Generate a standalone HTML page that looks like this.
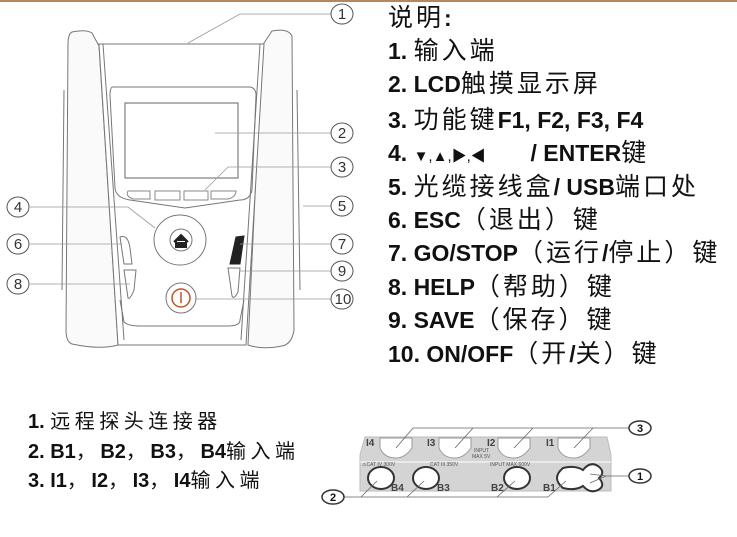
<!DOCTYPE html>
<html><head><meta charset="utf-8"><style>
body{margin:0;width:737px;height:537px;background:#fff;overflow:hidden;position:relative;font-family:"Liberation Sans","Noto Sans CJK SC",sans-serif}
.t{position:absolute;left:388px;font-size:23px;font-weight:bold;color:#111;line-height:24px;white-space:nowrap}
.t span{font-weight:normal;font-size:25px;letter-spacing:3px}
.b{position:absolute;left:28px;font-size:20px;color:#111;white-space:nowrap;font-weight:bold;line-height:22px}
.b span{font-weight:normal;font-size:20px;letter-spacing:4.5px}
</style></head><body>
<div style="position:absolute;left:0;top:0;width:737px;height:2px;background:#b8865a"></div>
<svg width="737" height="537" style="position:absolute;left:0;top:0" font-family="Liberation Sans, sans-serif">
<g fill="none" stroke="#777" stroke-width="1">
<path d="M72 32 Q86 29 92 33 L99 46 L118 345 Q100 350 72 344 Q66 342 66 330 L68 44 Q68 34 72 32Z" fill="#fafafa"/>
<path d="M64 90 L62 290" />
<path d="M272 31 Q288 28 292 36 L294 330 Q292 344 282 346 Q262 350 248 345 L262 46 Z" fill="#fafafa"/>
<path d="M297 90 L300 290"/>
<path d="M99 44 L264 44 L246 345 L118 345 Z" fill="#fff"/>
<path d="M103 44 L124 340 M260 44 L241 340"/>
<path d="M120 300 L124 322 Q128 326 140 326 L228 326 Q240 326 240 320 L244 300"/>
<path d="M113 87 L250 87 Q256 88 256 95 L252 190 Q250 200 240 200 L185 208 L130 200 Q116 198 115 188 L110 95 Q110 87 113 87Z"/>
<rect x="125" y="103" width="113" height="75" stroke="#666" fill="#fff"/>
<path d="M128 191 L150 191 L150 199 L133 199 Q125 196 128 191Z M155 191 L180 191 L180 200 L155 200Z M184 191 L208 191 L208 200 L184 200Z M211 191 L236 191 Q236 197 228 199 L211 199Z" stroke="#888"/>
<ellipse cx="180" cy="240" rx="26" ry="25"/>
<circle cx="181" cy="240" r="11"/>
<path d="M174 242 L181 235 L188 242 M176 241 L176 247 L186 247 L186 241" stroke="#222" stroke-width="2" fill="#222"/>
<path d="M120 237 Q128 234 130 248 L132 264 L124 264 Z"/>
<path d="M124 270 L136 270 L134 290 Q130 300 128 298 Z"/>
<path d="M236 237 L244 236 L240 264 L230 264 Z" fill="#222" stroke="#222"/>
<path d="M228 268 L240 268 L238 292 Q234 300 232 296 Z"/>
<circle cx="181" cy="298" r="15" fill="#fff"/>
<circle cx="181" cy="298" r="9" stroke="#c0522a" stroke-width="1.5"/>
<line x1="181" y1="292" x2="181" y2="303" stroke="#c0522a" stroke-width="1.5"/>
</g>
<g fill="none" stroke="#999" stroke-width="0.8">
<path d="M188 43 L240 14 L331 14"/>
<path d="M215 133 L331 133"/>
<path d="M205 190 L228 167 L331 167"/>
<path d="M303 206 L331 206"/>
<path d="M240 244 L331 244"/>
<path d="M240 271 L331 271"/>
<path d="M195 299 L331 299"/>
<path d="M30 207 L128 207 L155 228"/>
<path d="M30 244 L122 244"/>
<path d="M30 284 L130 284"/>
</g>
<g fill="#fff" stroke="#555" stroke-width="1">
<ellipse cx="342" cy="14" rx="11" ry="10"/><ellipse cx="342" cy="133" rx="11" ry="10"/><ellipse cx="342" cy="167" rx="11" ry="10"/>
<ellipse cx="342" cy="206" rx="11" ry="10"/><ellipse cx="342" cy="244" rx="11" ry="10"/><ellipse cx="342" cy="271" rx="11" ry="10"/>
<ellipse cx="342" cy="299" rx="11" ry="10"/>
<ellipse cx="18" cy="207" rx="11" ry="10"/><ellipse cx="18" cy="244" rx="11" ry="10"/><ellipse cx="18" cy="284" rx="11" ry="10"/>
</g>
<g font-size="15" text-anchor="middle" fill="#333">
<text x="342" y="19">1</text><text x="342" y="138">2</text><text x="342" y="172">3</text><text x="342" y="211">5</text>
<text x="342" y="249">7</text><text x="342" y="276">9</text><text x="343" y="304">10</text>
<text x="18" y="212">4</text><text x="18" y="249">6</text><text x="18" y="289">8</text>
</g>
<path d="M365 437 L607 437 L611 455 L611 491 L360 491 L360 455 Z" fill="#d4d4d4" stroke="#bbb"/>
<line x1="360" y1="462" x2="611" y2="462" stroke="#fff" stroke-width="1"/>
<g fill="#fff" stroke="#999">
<path d="M380 438 L412 438 L412 448 Q405 458 396 458 Q384 458 380 448Z"/>
<path d="M439 438 L471 438 L471 448 Q464 458 455 458 Q443 458 439 448Z"/>
<path d="M498 438 L530 438 L530 448 Q523 458 514 458 Q502 458 498 448Z"/>
<path d="M558 438 L590 438 L590 448 Q583 458 574 458 Q562 458 558 448Z"/>
</g>
<g fill="#fff" stroke="#333" stroke-width="2">
<ellipse cx="381" cy="478" rx="13" ry="11"/><ellipse cx="426" cy="478" rx="13" ry="11"/><ellipse cx="517" cy="478" rx="13" ry="11"/>
<path d="M563 468 Q575 465 583 470 Q590 461 598 466 Q606 472 599 478 Q606 486 598 490 Q590 494 583 486 Q575 491 563 488 Q551 478 563 468Z"/>
</g>
<g font-size="10" fill="#444" font-weight="bold">
<text x="366" y="446">I4</text><text x="427" y="446">I3</text><text x="487" y="446">I2</text><text x="546" y="446">I1</text>
<text x="391" y="491">B4</text><text x="437" y="491">B3</text><text x="491" y="491">B2</text><text x="543" y="491">B1</text>
</g>
<g font-size="5" fill="#555"><text x="474" y="452">INPUT</text><text x="472" y="458">MAX 5V</text>
<text x="362" y="466">⚠CAT IV 300V</text><text x="430" y="466">CAT III 350V</text><text x="490" y="466">INPUT MAX 600V</text></g>
<g fill="none" stroke="#666" stroke-width="0.8">
<path d="M396 448 L413 428 L629 428 M455 448 L473 428 M514 448 L533 428 M574 448 L593 428"/>
<path d="M344 497 L548 497 M361 497 L377 481 M407 497 L424 481 M497 497 L515 481 M548 497 L566 481"/>
<path d="M590 474 L606 476 L629 476 M590 483 L606 476"/>
</g>
<g fill="#fff" stroke="#333" stroke-width="1.5">
<ellipse cx="640" cy="428" rx="11" ry="7"/><ellipse cx="640" cy="476" rx="11" ry="7"/><ellipse cx="333" cy="497" rx="11" ry="7"/>
</g>
<g font-size="11" font-weight="bold" text-anchor="middle" fill="#111">
<text x="640" y="432">3</text><text x="640" y="480">1</text><text x="333" y="501">2</text>
</g>
</svg>
<div class="t" style="top:6px"><span>说明</span>:</div>
<div class="t" style="top:39px">1. <span>输入端</span></div>
<div class="t" style="top:72px">2. LCD<span>触摸显示屏</span></div>
<div class="t" style="top:108px">3. <span>功能键</span>F1, F2, F3, F4</div>
<div class="t" style="top:141px">4. <span style="font-size:15px;letter-spacing:0">▼,▲,▶,◀</span>&nbsp;&nbsp;&nbsp;&nbsp;&nbsp;&nbsp; / ENTER<span>键</span></div>
<div class="t" style="top:175px">5. <span>光缆接线盒</span>/ USB<span>端口处</span></div>
<div class="t" style="top:208px">6. ESC<span>（退出）键</span></div>
<div class="t" style="top:241px">7. GO/STOP<span>（运行</span>/<span>停止）键</span></div>
<div class="t" style="top:275px">8. HELP<span>（帮助）键</span></div>
<div class="t" style="top:308px">9. SAVE<span>（保存）键</span></div>
<div class="t" style="top:342px">10. ON/OFF<span>（开</span>/<span>关）键</span></div>
<div class="b" style="top:411px">1. <span>远程探头连接器</span></div>
<div class="b" style="top:441px">2. B1<span>，</span>B2<span>，</span>B3<span>，</span>B4<span>输入端</span></div>
<div class="b" style="top:470px">3. I1<span>，</span>I2<span>，</span>I3<span>，</span>I4<span>输入端</span></div>
</body></html>
